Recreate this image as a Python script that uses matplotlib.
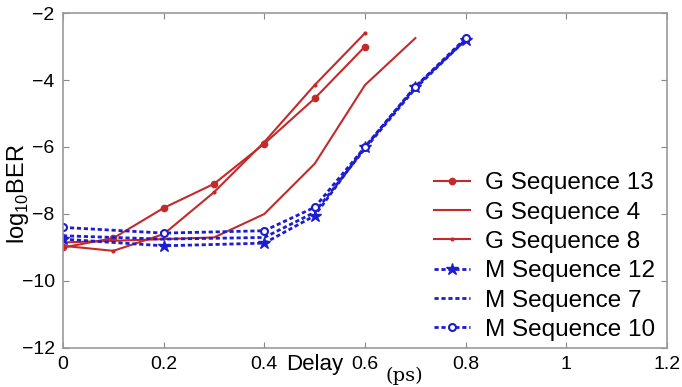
import matplotlib.pyplot as plt

plt.rcParams['font.family'] = ['Liberation Sans', 'DejaVu Sans']
plt.rcParams['mathtext.fontset'] = 'custom'
plt.rcParams['mathtext.rm'] = 'Liberation Sans'

# delay values (ps)
x_g13 = [0, 0.1, 0.2, 0.3, 0.4, 0.5, 0.6]
y_g13 = [-9.0, -8.72, -7.82, -7.1, -5.9, -4.55, -3.0]

x_g4 = [0, 0.1, 0.2, 0.3, 0.4, 0.5, 0.6, 0.7]
y_g4 = [-8.85, -8.8, -8.75, -8.7, -8.0, -6.5, -4.15, -2.75]

x_g8 = [0, 0.1, 0.2, 0.3, 0.4, 0.5, 0.6]
y_g8 = [-8.95, -9.1, -8.6, -7.35, -5.85, -4.15, -2.6]

x_m = [0, 0.2, 0.4, 0.5, 0.6, 0.7, 0.8]
y_m12 = [-8.75, -8.95, -8.87, -8.05, -6.0, -4.2, -2.8]
y_m7 = [-8.65, -8.75, -8.7, -7.95, -6.05, -4.25, -2.8]
y_m10 = [-8.4, -8.57, -8.5, -7.8, -6.0, -4.2, -2.75]

xticks = [0, 0.2, 0.4, 0.6, 0.8, 1, 1.2]
xticklabels = ['0', '0.2', '0.4', '0.6', '0.8', '1', '1.2']
yticks = [-12, -10, -8, -6, -4, -2]

red = '#c42a2a'
blue = '#1c1cd0'

fig = plt.figure(figsize=(6.82, 3.87), dpi=100)
ax = fig.add_axes([0.0924, 0.1008, 0.8856, 0.8656])

ax.plot(x_g13, y_g13, color=red, lw=1.5, marker='o', ms=4.5, label='G Sequence 13')
ax.plot(x_g4, y_g4, color=red, lw=1.5, label='G Sequence 4')
ax.plot(x_g8, y_g8, color=red, lw=1.5, marker='o', ms=2, label='G Sequence 8')
ax.plot(x_m, y_m12, color=blue, lw=2, ls=(0, (1.5, 1)), marker='*', ms=9,
        label='M Sequence 12')
ax.plot(x_m, y_m7, color=blue, lw=2, ls=(0, (1.5, 1)), label='M Sequence 7')
ax.plot(x_m, y_m10, color=blue, lw=2, ls=(0, (1.5, 1)), marker='o', ms=5,
        mfc='white', mew=1.5, label='M Sequence 10')

ax.set_xlim(0, 1.2)
ax.set_ylim(-12, -2)
ax.set_xticks(xticks)
ax.set_xticklabels(xticklabels)
ax.set_yticks(yticks)
ax.tick_params(direction='in', top=True, right=True, labelsize=14,
               length=4, color='#888888', pad=6)
for s in ax.spines.values():
    s.set_color('#999999')
    s.set_linewidth(1.2)

fig.text(0.462, 0.03, 'Delay', fontsize=16, ha='center', va='bottom')
fig.text(0.593, 0.005, '(ps)', fontsize=14, ha='center', va='bottom',
         family='DejaVu Serif')
fig.text(0.026, 0.5, r'log$_{10}$BER', fontsize=17, rotation=90,
         ha='center', va='center')

ax.legend(loc='lower right', frameon=False, fontsize=17.5, handlelength=1.5,
          handletextpad=0.6, labelspacing=0.3, borderaxespad=0.1,
          bbox_to_anchor=(1.0, -0.015))

fig.savefig('out.png', dpi=100)
